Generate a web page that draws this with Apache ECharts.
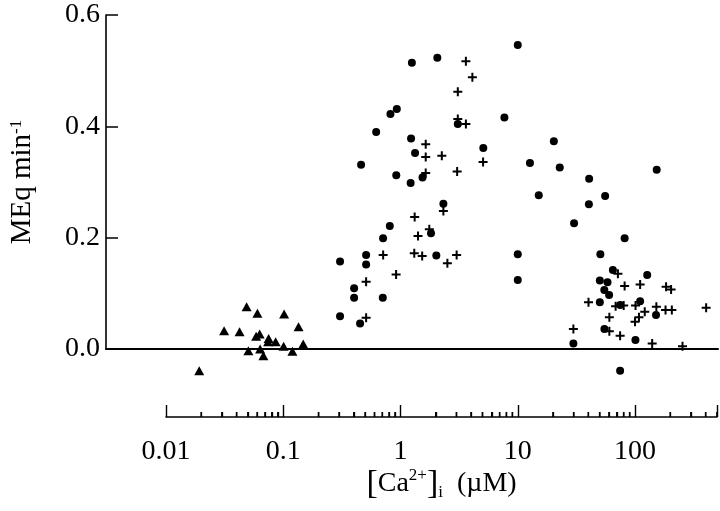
<!DOCTYPE html>
<html>
<head>
<meta charset="utf-8">
<script src="https://cdn.jsdelivr.net/npm/echarts@6/dist/echarts.min.js"></script>
<style>
html,body{margin:0;padding:0;background:#fff;}
#c{width:720px;height:511px;}
</style>
</head>
<body>
<div id="c"></div>
<script>
// ---- data ----
const triX = [0.0192, 0.0487, 0.0602, 0.1017, 0.0313, 0.0424, 0.135, 0.0587, 0.0629, 0.075, 0.0861, 0.0743, 0.148, 0.1007, 0.0504, 0.0635, 0.0677, 0.1197];
const triY = [-0.039, 0.076, 0.064, 0.063, 0.033, 0.031, 0.040, 0.023, 0.027, 0.019, 0.013, 0.013, 0.009, 0.005, -0.003, 0.000, -0.012, -0.004];

const circX = [10.0, 1.25, 2.06, 0.93, 0.82, 0.62, 1.23, 1.33, 0.461, 0.92, 1.22, 1.54, 3.08, 7.69, 5.08, 20.3, 12.7, 22.8, 40.6, 153, 15.1, 55.6, 40.4, 30.2, 81.5, 2.32, 0.81, 0.71, 1.82, 0.509, 2.02, 10.0, 50.6, 0.305, 0.509, 0.402, 0.402, 0.706, 0.305, 0.452, 10.0, 64.7, 127, 50.1, 58.2, 54.7, 60.1, 50.1, 74.6, 110.5, 151, 54.8, 100.8, 29.8, 74.6];
const circY = [0.546, 0.514, 0.523, 0.431, 0.422, 0.390, 0.378, 0.352, 0.331, 0.312, 0.298, 0.308, 0.404, 0.416, 0.361, 0.373, 0.334, 0.326, 0.306, 0.322, 0.276, 0.275, 0.260, 0.226, 0.199, 0.261, 0.221, 0.199, 0.208, 0.169, 0.168, 0.170, 0.170, 0.157, 0.152, 0.109, 0.092, 0.092, 0.059, 0.046, 0.124, 0.142, 0.133, 0.123, 0.120, 0.106, 0.097, 0.084, 0.079, 0.086, 0.061, 0.036, 0.016, 0.010, -0.039];

const plusX = [3.61, 4.10, 3.08, 3.08, 3.61, 1.64, 1.64, 2.25, 1.64, 3.04, 5.06, 2.32, 1.32, 1.76, 1.41, 0.711, 1.31, 1.53, 3.01, 2.51, 0.917, 0.509, 0.509, 71.4, 81.5, 110.5, 184, 203, 40.1, 68.3, 80.0, 101, 152, 182, 206, 404, 60.4, 121, 108, 100, 29.8, 60.4, 74.6, 140, 254];
const plusY = [0.517, 0.488, 0.462, 0.413, 0.404, 0.368, 0.345, 0.347, 0.316, 0.319, 0.336, 0.248, 0.237, 0.215, 0.203, 0.169, 0.172, 0.167, 0.169, 0.154, 0.134, 0.121, 0.056, 0.135, 0.113, 0.116, 0.112, 0.107, 0.084, 0.077, 0.078, 0.078, 0.076, 0.070, 0.070, 0.074, 0.057, 0.067, 0.057, 0.049, 0.036, 0.032, 0.024, 0.010, 0.005];

const xMin = 0.01, xMax = 500;
const xMajorTicks = [0.01, 0.1, 1, 10, 100];
const xTickLabels = ['0.01', '0.1', '1', '10', '100'];
const xMinorTicks = [0.02, 0.03, 0.04, 0.05, 0.06, 0.07, 0.08, 0.09,
                     0.2, 0.3, 0.4, 0.5, 0.6, 0.7, 0.8, 0.9,
                     2, 3, 4, 5, 6, 7, 8, 9,
                     20, 30, 40, 50, 60, 70, 80, 90,
                     200, 300, 400, 500];
const yMin = 0, yMax = 0.6, yStep = 0.2;
const yTickLabels = ['0.0', '0.2', '0.4', '0.6'];
const yDataMin = -0.1;

// ---- chart ----
const FONT = 'Liberation Serif';
const FS = 28;
const INK = '#000';
const MINOR_LEN = 5;
const pair = (xs, ys) => xs.map((x, i) => [x, ys[i]]);

const chart = echarts.init(document.getElementById('c'), null, {renderer: 'canvas'});
const gridTop = 15, gridAHeight = 334;
const pxPerUnit = gridAHeight / (yMax - yMin);
const plotLeft = 166, plotRight = 3;
const axisStripTop = 405, axisStripHeight = 12;   // thin grid whose bottom edge carries the x axis

const option = {
  animation: false,
  backgroundColor: '#fff',
  grid: [
    {left: 106, right: 2, top: gridTop, height: gridAHeight},                                   // y axis + zero line
    {left: plotLeft, right: plotRight, top: gridTop, height: pxPerUnit * (yMax - yDataMin)},  // data
    {left: plotLeft, right: plotRight, top: axisStripTop, height: axisStripHeight}            // x axis
  ],
  xAxis: [
    {gridIndex: 1, type: 'log', logBase: 10, min: xMin, max: xMax, show: false},
    {gridIndex: 2, type: 'log', logBase: 10, min: xMin, max: xMax, position: 'bottom',
      axisLine: {show: true, onZero: false, lineStyle: {color: INK, width: 1.5}},
      axisTick: {show: true, inside: true, length: 12, lineStyle: {color: INK, width: 1.4}},
      minorTick: {show: true, splitNumber: 9, length: MINOR_LEN, lineStyle: {color: INK, width: 1.3}},
      axisLabel: {show: true, margin: 21, fontFamily: FONT, fontSize: FS, color: INK,
        formatter: v => { const i = xMajorTicks.findIndex(t => Math.abs(t - v) / t < 1e-6); return i >= 0 ? xTickLabels[i] : ''; }},
      splitLine: {show: false}, minorSplitLine: {show: false},
      name: '{b|[}{a|Ca}{s|2+}{b|]}{sub|i}{a|  (µM)}',
      nameLocation: 'middle', nameGap: 50,
      nameTextStyle: {fontFamily: FONT, fontSize: FS, color: INK,
        rich: {
          a: {fontFamily: FONT, fontSize: FS, color: INK},
          b: {fontFamily: FONT, fontSize: 34, color: INK},
          s: {fontFamily: FONT, fontSize: 17, color: INK, verticalAlign: 'top'},
          sub: {fontFamily: FONT, fontSize: 17, color: INK, verticalAlign: 'bottom'}
        }}
    },
    {gridIndex: 0, type: 'value', min: 0, max: 1,
      axisLine: {show: true, lineStyle: {color: INK, width: 2}},
      axisTick: {show: false}, axisLabel: {show: false}, splitLine: {show: false}}
  ],
  yAxis: [
    {gridIndex: 0, type: 'value', min: yMin, max: yMax, interval: yStep,
      axisLine: {show: true, onZero: false, lineStyle: {color: INK, width: 1.6}},
      axisTick: {show: true, inside: true, length: 12, lineStyle: {color: INK, width: 1.5}},
      axisLabel: {show: true, margin: 6, fontFamily: FONT, fontSize: FS, color: INK,
        formatter: v => yTickLabels[Math.round((v - yMin) / yStep)]},
      splitLine: {show: false},
      name: '{a|MEq min}{s|-1}',
      nameLocation: 'middle', nameRotate: 90, nameGap: 69,
      nameTextStyle: {fontFamily: FONT, fontSize: FS, color: INK,
        rich: {
          a: {fontFamily: FONT, fontSize: 29, color: INK},
          s: {fontFamily: FONT, fontSize: 17, color: INK, verticalAlign: 'top'}
        }}
    },
    {gridIndex: 1, type: 'value', min: yDataMin, max: yMax, show: false},
    {gridIndex: 2, type: 'value', min: 0, max: 1, show: false}
  ],
  series: [
    // minor ticks as thin bar symbols sitting on the x axis line
    {type: 'scatter', name: 'minor ticks', xAxisIndex: 1, yAxisIndex: 2, silent: true, clip: false, z: 10,
      data: xMinorTicks.map(v => [v, 0]),
      symbol: 'rect', symbolSize: [1.3, MINOR_LEN], symbolOffset: [0, -MINOR_LEN / 2],
      itemStyle: {color: INK, opacity: 1}},
    {type: 'scatter', name: 'low', xAxisIndex: 0, yAxisIndex: 1, data: pair(triX, triY),
      symbol: 'triangle', symbolSize: [10, 9], itemStyle: {color: INK, opacity: 1}, silent: true},
    {type: 'scatter', name: 'circles', xAxisIndex: 0, yAxisIndex: 1, data: pair(circX, circY),
      symbol: 'circle', symbolSize: 8, itemStyle: {color: INK, opacity: 1}, silent: true},
    {type: 'scatter', name: 'plus', xAxisIndex: 0, yAxisIndex: 1, data: pair(plusX, plusY),
      symbol: 'path://M3.5,0h2v3.5h3.5v2h-3.5v3.5h-2v-3.5h-3.5v-2h3.5z', symbolSize: 9, symbolKeepAspect: true,
      itemStyle: {color: INK, opacity: 1}, silent: true}
  ]
};
chart.setOption(option);

// minor ticks also placed through the axis scale (convertToPixel), drawn on top
const tickGraphics = xMinorTicks.map(v => {
  const p = chart.convertToPixel({xAxisIndex: 1, yAxisIndex: 2}, [v, 0]);
  return {type: 'line', silent: true, z: 100,
          shape: {x1: p[0], y1: p[1], x2: p[0], y2: p[1] - MINOR_LEN},
          style: {stroke: INK, lineWidth: 1.3}};
}).filter(g => isFinite(g.shape.x1) && isFinite(g.shape.y1));
chart.setOption({graphic: tickGraphics});
</script>
</body>
</html>
